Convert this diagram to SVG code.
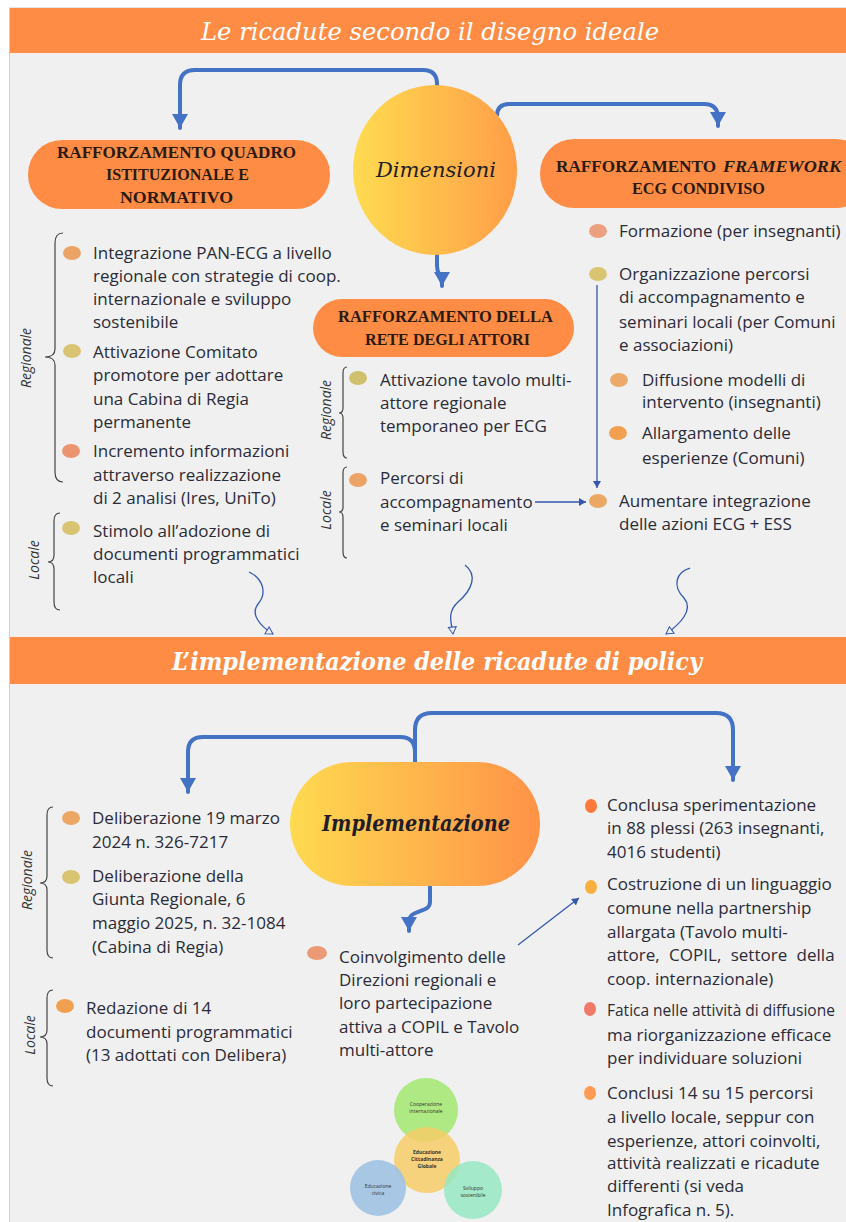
<svg xmlns="http://www.w3.org/2000/svg" width="846" height="1222" viewBox="0 0 846 1222">
<defs>
<linearGradient id="g1" x1="0" y1="0" x2="1" y2="0">
<stop offset="0" stop-color="#FFDB50"/><stop offset="1" stop-color="#FF9E48"/>
</linearGradient>
<linearGradient id="g2" x1="0" y1="0" x2="1" y2="0">
<stop offset="0" stop-color="#FFDA50"/><stop offset="1" stop-color="#FF9248"/>
</linearGradient>
<marker id="ab" markerUnits="userSpaceOnUse" markerWidth="18" markerHeight="16" refX="14" refY="8" orient="auto">
<path d="M0,0 L14,8 L0,16 Z" fill="#4472C4"/>
</marker>
<marker id="as" markerUnits="userSpaceOnUse" markerWidth="10" markerHeight="10" refX="7" refY="4" orient="auto">
<path d="M0,0 L7,4 L0,8 Z" fill="#3458B0"/>
</marker>
<marker id="ao" markerUnits="userSpaceOnUse" markerWidth="12" markerHeight="12" refX="8" refY="5" orient="auto">
<path d="M1,1 L8,5 L1,9 Z" fill="#F0F0F0" stroke="#3458B0" stroke-width="1"/>
</marker>
<style>
.t{font-family:"Open Sans",sans-serif;font-size:17px;fill:#2b2b38}
.ts{font-size:15.5px}
.lab{font-family:"Open Sans",sans-serif;font-style:italic;font-size:14px;fill:#333;text-anchor:middle}
.pill{fill:#FF8C45}
.pt{font-family:"Liberation Serif",serif;font-weight:bold;font-size:16px;fill:#2a1a10}
.conn{fill:none;stroke:#4472C4;stroke-width:4;stroke-linecap:round}
.thin{fill:none;stroke:#3458B0;stroke-width:1.3}
.brace{fill:none;stroke:#444;stroke-width:1.2}
.hd{font-family:"DejaVu Serif",serif;font-style:italic;font-size:24px;fill:#fff;text-anchor:start}
.vt{font-family:"Open Sans",sans-serif;font-size:5px;fill:#333;text-anchor:middle}
</style>
</defs>

<rect x="0" y="0" width="846" height="1222" fill="#ffffff"/>
<rect x="9.5" y="8" width="840" height="1220" fill="#F0F0F0" stroke="#d0d0d0" stroke-width="1"/>

<g id="header1">
<rect x="10" y="8" width="836" height="45" fill="#FF8C45"/>
<text class="hd" x="201" y="40" textLength="458" lengthAdjust="spacingAndGlyphs">Le ricadute secondo il disegno ideale</text>
</g>

<g id="header2">
<rect x="10" y="637" width="836" height="47" fill="#FF8C45"/>
<text class="hd" x="172" y="670" font-weight="bold" textLength="530" lengthAdjust="spacingAndGlyphs">L’implementazione delle ricadute di policy</text>
</g>

<g id="connectors">
<path class="conn" d="M437,86 V84 Q437,70 423,70 H195 Q180,70 180,85 V128" marker-end="url(#ab)"/>
<path class="conn" d="M497,114 V116 Q497,104 509,104 H704 Q718,104 718,118 V126" marker-end="url(#ab)"/>
<path class="conn" d="M437,255 V266 C437,276 442,274 442,284 V286" marker-end="url(#ab)"/>
<path class="conn" d="M415,762 V752 Q415,737 400,737 H203 Q188,737 188,752 V792" marker-end="url(#ab)"/>
<path class="conn" d="M415,752 V730 Q415,713 432,713 H716 Q733,713 733,730 V780" marker-end="url(#ab)"/>
<path class="conn" d="M430,885 V902 C430,914 409,908 409,922 V931" marker-end="url(#ab)"/>
<path class="thin" d="M535,502 H586" marker-end="url(#as)"/>
<path class="thin" d="M597,285 V488" marker-end="url(#as)"/>
<path class="thin" d="M518,945 L579,898" marker-end="url(#as)"/>
<path class="thin" d="M249,572 C262,578 268,592 258,604 C250,614 260,626 273,634" marker-end="url(#ao)"/>
<path class="thin" d="M465,565 C478,575 472,590 458,602 C446,613 452,624 453,634" marker-end="url(#ao)"/>
<path class="thin" d="M690,568 C676,572 672,586 684,598 C694,610 680,624 666,634" marker-end="url(#ao)"/>
</g>

<g id="dimensioni">
<ellipse cx="435" cy="170" rx="82" ry="85" fill="url(#g1)"/>
<text x="376" y="177" font-family="DejaVu Serif, serif" font-style="italic" font-size="21" fill="#1e1e28" textLength="120" lengthAdjust="spacingAndGlyphs">Dimensioni</text>
</g>

<g id="pill-quadro">
<rect class="pill" x="28" y="140" width="302" height="69" rx="34"/>
<text class="pt" x="57" y="158" textLength="239" lengthAdjust="spacingAndGlyphs">RAFFORZAMENTO QUADRO</text>
<text class="pt" x="106" y="180" textLength="143" lengthAdjust="spacingAndGlyphs">ISTITUZIONALE E</text>
<text class="pt" x="120" y="203" textLength="113" lengthAdjust="spacingAndGlyphs">NORMATIVO</text>
</g>

<g id="pill-framework">
<rect class="pill" x="540" y="139" width="330" height="69" rx="34"/>
<text class="pt" x="556" y="172" textLength="160" lengthAdjust="spacingAndGlyphs">RAFFORZAMENTO</text>
<text class="pt" x="723" y="172" font-style="italic" textLength="118" lengthAdjust="spacingAndGlyphs">FRAMEWORK</text>
<text class="pt" x="632" y="194" textLength="133" lengthAdjust="spacingAndGlyphs">ECG CONDIVISO</text>
</g>

<g id="pill-rete">
<rect class="pill" x="313" y="299" width="261" height="58" rx="29"/>
<text class="pt" x="338" y="322" textLength="215" lengthAdjust="spacingAndGlyphs">RAFFORZAMENTO DELLA</text>
<text class="pt" x="365" y="345" textLength="165" lengthAdjust="spacingAndGlyphs">RETE DEGLI ATTORI</text>
</g>

<g id="left-regionale">
<path class="brace" d="M63,233 Q55,233 55,243 V349 Q55,357 45,357 Q55,357 55,365 V472 Q55,482 63,482"/>
<text class="lab" transform="translate(31,358) rotate(-90)">Regionale</text>
<ellipse cx="72" cy="253" rx="9" ry="7" fill="#EBA465"/>
<text class="t" x="93" y="259">Integrazione PAN-ECG a livello</text>
<text class="t" x="93" y="282">regionale con strategie di coop.</text>
<text class="t" x="93" y="305">internazionale e sviluppo</text>
<text class="t" x="93" y="328">sostenibile</text>
<ellipse cx="72" cy="351" rx="9" ry="7" fill="#D9C472"/>
<text class="t" x="93" y="358">Attivazione Comitato</text>
<text class="t" x="93" y="381">promotore per adottare</text>
<text class="t" x="93" y="405">una Cabina di Regia</text>
<text class="t" x="93" y="428">permanente</text>
<ellipse cx="71" cy="451" rx="9" ry="7" fill="#EC9470"/>
<text class="t" x="93" y="457">Incremento informazioni</text>
<text class="t" x="93" y="481">attraverso realizzazione</text>
<text class="t" x="93" y="504">di 2 analisi (Ires, UniTo)</text>
</g>

<g id="left-locale">
<path class="brace" d="M60,513 Q54,513 54,521 V555 Q54,562 48,562 Q54,562 54,569 V602 Q54,610 60,610"/>
<text class="lab" transform="translate(39,560) rotate(-90)">Locale</text>
<ellipse cx="71" cy="528" rx="9" ry="7" fill="#D9C472"/>
<text class="t" x="93" y="537">Stimolo all’adozione di</text>
<text class="t" x="93" y="560">documenti programmatici</text>
<text class="t" x="93" y="583">locali</text>
</g>

<g id="mid-regionale">
<path class="brace" d="M347,367 Q343,367 343,373 V408 Q343,413 339,413 Q343,413 343,418 V452 Q343,458 347,458"/>
<text class="lab" transform="translate(331,410) rotate(-90)">Regionale</text>
<ellipse cx="358" cy="378" rx="9" ry="7" fill="#CFC06E"/>
<text class="t" x="380" y="386">Attivazione tavolo multi-</text>
<text class="t" x="380" y="409">attore regionale</text>
<text class="t" x="380" y="432">temporaneo per ECG</text>
</g>

<g id="mid-locale">
<path class="brace" d="M347,467 Q343,467 343,473 V507 Q343,512 339,512 Q343,512 343,517 V552 Q343,558 347,558"/>
<text class="lab" transform="translate(331,510) rotate(-90)">Locale</text>
<ellipse cx="358" cy="480" rx="9" ry="7" fill="#EBA465"/>
<text class="t" x="380" y="484">Percorsi di</text>
<text class="t" x="380" y="508">accompagnamento</text>
<text class="t" x="380" y="531">e seminari locali</text>
</g>

<g id="right-items">
<ellipse cx="598" cy="231" rx="9" ry="7" fill="#EBA080"/>
<text class="t" x="619" y="237">Formazione (per insegnanti)</text>
<ellipse cx="598" cy="274" rx="9" ry="7" fill="#D9C472"/>
<text class="t" x="619" y="280">Organizzazione percorsi</text>
<text class="t" x="619" y="303">di accompagnamento e</text>
<text class="t" x="619" y="328">seminari locali (per Comuni</text>
<text class="t" x="619" y="351">e associazioni)</text>
<ellipse cx="619" cy="380" rx="9" ry="7" fill="#EBAA6A"/>
<text class="t" x="642" y="386">Diffusione modelli di</text>
<text class="t" x="642" y="408">intervento (insegnanti)</text>
<ellipse cx="618" cy="433" rx="9" ry="7" fill="#F0A050"/>
<text class="t" x="642" y="439">Allargamento delle</text>
<text class="t" x="642" y="464">esperienze (Comuni)</text>
<ellipse cx="598" cy="501" rx="9" ry="7" fill="#EBA865"/>
<text class="t" x="619" y="507">Aumentare integrazione</text>
<text class="t" x="619" y="530">delle azioni ECG + ESS</text>
</g>

<g id="implementazione">
<rect x="290" y="762" width="250" height="124" rx="62" fill="url(#g2)"/>
<text x="322" y="831" font-family="DejaVu Serif, serif" font-style="italic" font-weight="bold" font-size="23" fill="#1e1e28" textLength="188" lengthAdjust="spacingAndGlyphs">Implementazione</text>
</g>

<g id="bottom-regionale">
<path class="brace" d="M53,807 Q47,807 47,815 V876 Q47,883 40,883 Q47,883 47,890 V950 Q47,958 53,958"/>
<text class="lab" transform="translate(32,880) rotate(-90)">Regionale</text>
<ellipse cx="71" cy="818" rx="9" ry="7" fill="#EBA865"/>
<text class="t" x="92" y="824">Deliberazione 19 marzo</text>
<text class="t" x="92" y="848">2024 n. 326-7217</text>
<ellipse cx="71" cy="877" rx="9" ry="7" fill="#D9C472"/>
<text class="t" x="92" y="882">Deliberazione della</text>
<text class="t" x="92" y="905">Giunta Regionale, 6</text>
<text class="t" x="92" y="929">maggio 2025, n. 32-1084</text>
<text class="t" x="92" y="953">(Cabina di Regia)</text>
</g>

<g id="bottom-locale">
<path class="brace" d="M53,990 Q47,990 47,998 V1030 Q47,1037 40,1037 Q47,1037 47,1044 V1078 Q47,1086 53,1086"/>
<text class="lab" transform="translate(35,1035) rotate(-90)">Locale</text>
<ellipse cx="65" cy="1006" rx="9" ry="7" fill="#F0A050"/>
<text class="t" x="86" y="1014">Redazione di 14</text>
<text class="t" x="86" y="1038">documenti programmatici</text>
<text class="t" x="86" y="1061">(13 adottati con Delibera)</text>
</g>

<g id="coinvolgimento">
<ellipse cx="317" cy="953" rx="10" ry="7" fill="#EB9A75"/>
<text class="t" x="339" y="963">Coinvolgimento delle</text>
<text class="t" x="339" y="986">Direzioni regionali e</text>
<text class="t" x="339" y="1009">loro partecipazione</text>
<text class="t" x="339" y="1033">attiva a COPIL e Tavolo</text>
<text class="t" x="339" y="1056">multi-attore</text>
</g>

<g id="venn">
<circle cx="426" cy="1110" r="32" fill="#A6E878" fill-opacity="0.9"/>
<circle cx="427" cy="1160" r="33" fill="#F6CC66" fill-opacity="0.85"/>
<circle cx="378" cy="1188" r="28" fill="#A0C2E2" fill-opacity="0.9"/>
<circle cx="473" cy="1190" r="29" fill="#96E8C2" fill-opacity="0.85"/>
<text class="vt" x="426" y="1106">Cooperazione</text>
<text class="vt" x="426" y="1113">internazionale</text>
<text class="vt" x="427" y="1154" font-weight="bold">Educazione</text>
<text class="vt" x="427" y="1161" font-weight="bold">Cittadinanza</text>
<text class="vt" x="427" y="1168" font-weight="bold">Globale</text>
<text class="vt" x="378" y="1188">Educazione</text>
<text class="vt" x="378" y="1195">civica</text>
<text class="vt" x="473" y="1190">Sviluppo</text>
<text class="vt" x="473" y="1197">sostenibile</text>
</g>

<g id="right-bottom">
<ellipse cx="591" cy="806" rx="6" ry="7" fill="#FF7A3A"/>
<text class="t" x="607" y="811">Conclusa sperimentazione</text>
<text class="t" x="607" y="834">in 88 plessi (263 insegnanti,</text>
<text class="t" x="607" y="858">4016 studenti)</text>
<ellipse cx="591" cy="887" rx="6" ry="7" fill="#F5B040"/>
<text class="t" x="607" y="890">Costruzione di un linguaggio</text>
<text class="t" x="607" y="914">comune nella partnership</text>
<text class="t" x="607" y="938">allargata (Tavolo multi-</text>
<text class="t" x="607" y="961" word-spacing="5">attore, COPIL, settore della</text>
<text class="t" x="607" y="985">coop. internazionale)</text>
<ellipse cx="590" cy="1009" rx="6" ry="7" fill="#F07A6A"/>
<text class="t ts" x="607" y="1016">Fatica nelle attività di diffusione</text>
<text class="t" x="607" y="1041">ma riorganizzazione efficace</text>
<text class="t" x="607" y="1064">per individuare soluzioni</text>
<ellipse cx="590" cy="1093" rx="6" ry="7" fill="#FF9A55"/>
<text class="t" x="607" y="1099">Conclusi 14 su 15 percorsi</text>
<text class="t" x="607" y="1123">a livello locale, seppur con</text>
<text class="t" x="607" y="1147">esperienze, attori coinvolti,</text>
<text class="t" x="607" y="1169">attività realizzati e ricadute</text>
<text class="t" x="607" y="1192">differenti (si veda</text>
<text class="t" x="607" y="1216">Infografica n. 5).</text>
</g>
</svg>
